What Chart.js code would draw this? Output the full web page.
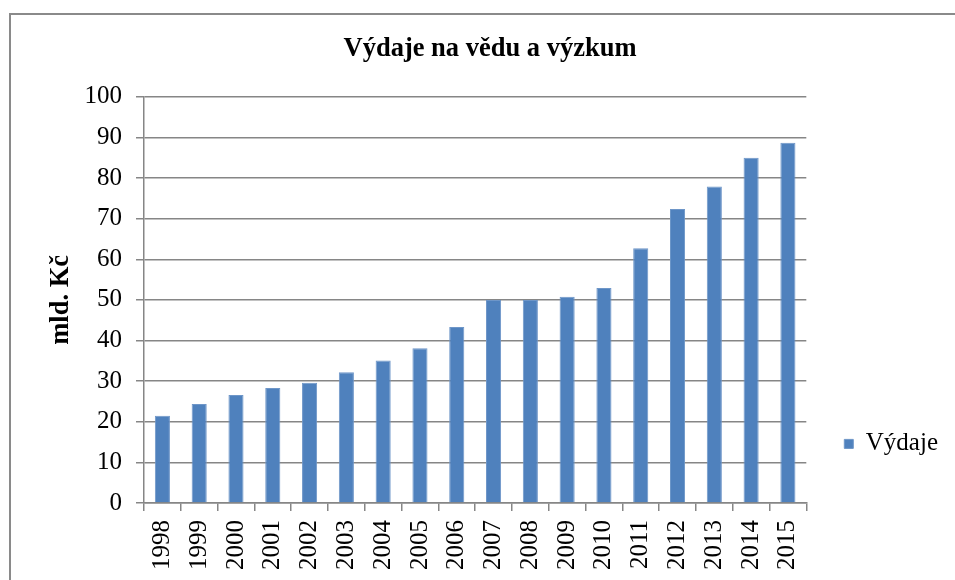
<!DOCTYPE html>
<html>
<head>
<meta charset="utf-8">
<script src="https://cdn.jsdelivr.net/npm/chart.js@4.4.1/dist/chart.umd.min.js"></script>
<style>
  html, body { margin: 0; padding: 0; background: #fff; }
  #wrap { position: relative; width: 955px; height: 580px; overflow: hidden; }
  #frame { position: absolute; left: 9px; top: 13px; width: 1000px; height: 1000px;
           border-left: 2px solid #8a8a8a; border-top: 2px solid #8a8a8a; pointer-events: none; }
  canvas { position: absolute; left: 0; top: 0; }
</style>
</head>
<body>
<div id="wrap">
  <canvas id="chart" width="955" height="580"></canvas>
  <div id="frame"></div>
</div>
<script>
// data
const years = ["1998", "1999", "2000", "2001", "2002", "2003", "2004", "2005", "2006",
               "2007", "2008", "2009", "2010", "2011", "2012", "2013", "2014", "2015"];
const spending = [21.5, 24.4, 26.6, 28.3, 29.6, 32.2, 35.1, 38.1, 43.3,
                  50.0, 50.0, 50.8, 52.9, 62.7, 72.4, 77.9, 85.0, 88.7];
const seriesName = "Výdaje";
const chartTitle = "Výdaje na vědu a výzkum";
const yTitle = "mld. Kč";

const serif = "'Liberation Serif', 'Times New Roman', serif";
const gridGray = "#868686";

new Chart(document.getElementById("chart"), {
  type: "bar",
  data: {
    labels: years,
    datasets: [{
      label: seriesName,
      data: spending,
      backgroundColor: "#4F81BD",
      borderColor: "#6E96C8",
      borderWidth: 1,
      barPercentage: 0.41,
      categoryPercentage: 1
    }]
  },
  options: {
    responsive: false,
    devicePixelRatio: 1,
    animation: false,
    layout: { padding: { left: 32, top: 0, right: 7, bottom: 0 } },
    plugins: {
      tooltip: { enabled: false },
      title: {
        display: true,
        text: chartTitle,
        color: "#000",
        font: { family: serif, size: 26.5, weight: "bold" },
        padding: { top: 33, bottom: 32 }
      },
      legend: {
        position: "right",
        align: "start",
        title: { display: true, text: "", padding: { top: 379, bottom: 0 } },
        labels: {
          color: "#000",
          font: { family: serif, size: 25 },
          boxWidth: 9,
          boxHeight: 9,
          padding: 38
        }
      }
    },
    scales: {
      x: {
        afterFit: (s) => { s.height = 77; },
        grid: { drawOnChartArea: false, offset: true, tickLength: 8, color: gridGray, lineWidth: 1.5 },
        border: { color: gridGray, width: 1.5 },
        ticks: {
          color: "#000",
          font: { family: serif, size: 25 },
          minRotation: 90,
          maxRotation: 90,
          autoSkip: false,
          padding: 9
        }
      },
      y: {
        min: 0,
        max: 100,
        afterFit: (s) => { s.width = 112; },
        grid: { color: gridGray, lineWidth: 1.5, tickLength: 8 },
        border: { color: gridGray, width: 1.5 },
        ticks: {
          stepSize: 10,
          color: "#000",
          font: { family: serif, size: 25 },
          padding: 14
        },
        title: {
          display: true,
          text: yTitle,
          color: "#000",
          font: { family: serif, size: 26.5, weight: "bold" },
          padding: { top: 13, bottom: 0 }
        }
      }
    }
  }
});
</script>
</body>
</html>
